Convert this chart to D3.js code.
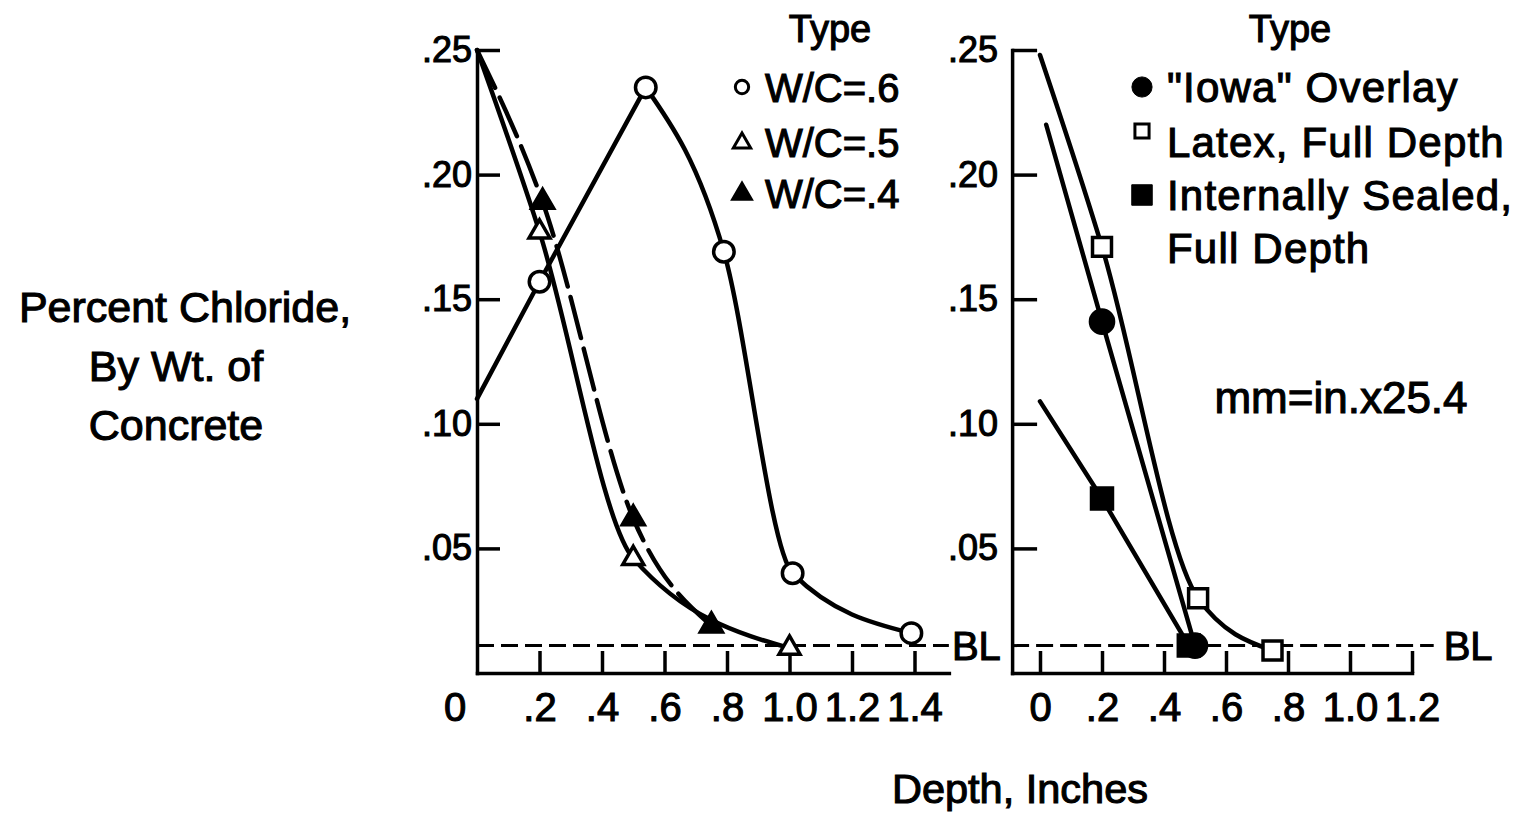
<!DOCTYPE html>
<html>
<head>
<meta charset="utf-8">
<script src="https://cdn.jsdelivr.net/npm/d3@7/dist/d3.min.js"></script>
<style>
  html, body { margin: 0; padding: 0; background: #fff; }
  svg { display: block; }
  text { font-family: "Liberation Sans", Arial, sans-serif; fill: #000; }
</style>
</head>
<body>
<svg id="chart" width="1515" height="816"></svg>
<script>
// Chloride profiles vs. depth (two panels)
const leftDepthTicks = [0.2, 0.4, 0.6, 0.8, 1.0, 1.2, 1.4];
const rightDepthTicks = [0, 0.2, 0.4, 0.6, 0.8, 1.0, 1.2];
const chlorideTicks = [0.05, 0.10, 0.15, 0.20, 0.25];
const baselineChloride = 0.011;

// Left panel: water/cement ratio
const wc6Depth = [0, 0.2, 0.54, 0.79, 1.01, 1.39];
const wc6Chloride = [0.110, 0.157, 0.235, 0.169, 0.040, 0.016];
const wc5Depth = [0, 0.2, 0.5, 1.0];
const wc5Chloride = [0.250, 0.177, 0.046, 0.010];
const wc4Depth = [0, 0.21, 0.5, 0.75];
const wc4Chloride = [0.250, 0.189, 0.062, 0.019];

// Right panel: overlay type
const iowaDepth = [0.02, 0.2, 0.5];
const iowaChloride = [0.220, 0.141, 0.011];
const latexDepth = [0, 0.2, 0.51, 0.75];
const latexChloride = [0.248, 0.171, 0.030, 0.009];
const sealedDepth = [0, 0.2, 0.48];
const sealedChloride = [0.109, 0.070, 0.011];

const leftLegend = ["W/C=.6", "W/C=.5", "W/C=.4"];
const rightLegend = ["\"Iowa\" Overlay", "Latex, Full Depth", "Internally Sealed,", "Full Depth"];

const svg = d3.select("#chart");
svg.append("rect").attr("width", 1515).attr("height", 816).attr("fill", "#fff");

const y = d3.scaleLinear().domain([0, 0.25]).range([673, 50]);
const xL = d3.scaleLinear().domain([0, 1.51]).range([477, 477 + 1.51 * 312.5]);
const xR = d3.scaleLinear().domain([-0.09, 1.2]).range([1040 - 0.09 * 310, 1412]);

const fmtDepth = d => d === 0 ? "0" : (d < 1 ? d3.format(".1f")(d).slice(1) : d3.format(".1f")(d));
const fmtChl = d => d3.format(".2f")(d).slice(1);

const INK = "#000";
const AXW = 3.5;
const TEXT_STROKE = 1.1;

function styleAxis(g, size) {
  g.selectAll(".domain").attr("stroke", INK).attr("stroke-width", AXW).attr("stroke-linecap", "square");
  g.selectAll(".tick line").attr("stroke", INK).attr("stroke-width", AXW);
  g.selectAll(".tick text")
    .attr("font-family", "\"Liberation Sans\", Arial, sans-serif")
    .attr("font-size", size)
    .attr("stroke", INK).attr("stroke-width", TEXT_STROKE);
  g.attr("font-family", null);
}

// Left panel axes
svg.append("g").attr("transform", `translate(0,${y(0)})`)
  .call(d3.axisBottom(xL).tickValues(leftDepthTicks).tickSize(-22).tickSizeOuter(0).tickPadding(20).tickFormat(fmtDepth))
  .call(g => styleAxis(g, 40));
svg.append("g").attr("transform", `translate(${xL(0)},0)`)
  .call(d3.axisLeft(y).tickValues(chlorideTicks).tickSize(-23).tickSizeOuter(0).tickPadding(5).tickFormat(fmtChl))
  .call(g => styleAxis(g, 36));
svg.append("text").attr("x", xL(0) - 22).attr("y", y(0) + 20).attr("dy", "0.71em")
  .attr("text-anchor", "middle").attr("font-size", 40).attr("stroke", INK).attr("stroke-width", TEXT_STROKE)
  .text(fmtDepth(0));

// Right panel axes
svg.append("g").attr("transform", `translate(0,${y(0)})`)
  .call(d3.axisBottom(xR).tickValues(rightDepthTicks).tickSize(-22).tickSizeOuter(0).tickPadding(20).tickFormat(fmtDepth))
  .call(g => styleAxis(g, 40));
svg.append("g").attr("transform", `translate(${xR(-0.09)},0)`)
  .call(d3.axisLeft(y).tickValues(chlorideTicks).tickSize(-25).tickSizeOuter(0).tickPadding(14).tickFormat(fmtChl))
  .call(g => styleAxis(g, 36));

// Background level (BL) reference lines
function baseline(x, d0, d1, labelX) {
  svg.append("line")
    .attr("x1", x(d0)).attr("x2", x(d1))
    .attr("y1", y(baselineChloride)).attr("y2", y(baselineChloride))
    .attr("stroke", INK).attr("stroke-width", 3).attr("stroke-dasharray", "17,7");
  svg.append("text").attr("x", labelX).attr("y", y(baselineChloride)).attr("dy", "0.36em")
    .attr("font-size", 40).attr("stroke", INK).attr("stroke-width", TEXT_STROKE).text("BL");
}
baseline(xL, 0, 1.51, xL(1.51) + 3);
baseline(xR, -0.09, 1.27, xR(1.27) + 10);

// Curves and markers
const zip = (ds, vs) => ds.map((d, i) => ({ depth: d, value: vs[i] }));

function series(x, pts, curve, dash) {
  const line = d3.line().x(d => x(d.depth)).y(d => y(d.value)).curve(curve);
  svg.append("path").datum(pts)
    .attr("d", line)
    .attr("fill", "none").attr("stroke", INK).attr("stroke-width", 4.5)
    .attr("stroke-linejoin", "round").attr("stroke-linecap", "round")
    .attr("stroke-dasharray", dash || null);
}

function markers(x, pts, type, size, filled) {
  svg.append("g").selectAll("path").data(pts).join("path")
    .attr("transform", d => `translate(${x(d.depth)},${y(d.value)})`)
    .attr("d", d3.symbol().type(type).size(size))
    .attr("fill", filled ? INK : "#fff")
    .attr("stroke", INK).attr("stroke-width", 3.5);
}

const wc6 = zip(wc6Depth, wc6Chloride);
const wc5 = zip(wc5Depth, wc5Chloride);
const wc4 = zip(wc4Depth, wc4Chloride);
// W/C=.6 rises straight to its peak, then falls off along a smooth curve
const wc6Peak = d3.maxIndex(wc6, d => d.value);
series(xL, wc6.slice(0, wc6Peak + 1), d3.curveLinear);
series(xL, wc6.slice(wc6Peak), d3.curveMonotoneX);
series(xL, wc5, d3.curveMonotoneX);
series(xL, wc4, d3.curveMonotoneX, "42,11");
markers(xL, wc6.slice(1), d3.symbolCircle, 330, false);
markers(xL, wc5.slice(1), d3.symbolTriangle, 190, false);
markers(xL, wc4.slice(1), d3.symbolTriangle, 210, true);

const iowa = zip(iowaDepth, iowaChloride);
const latex = zip(latexDepth, latexChloride);
const sealed = zip(sealedDepth, sealedChloride);
series(xR, latex, d3.curveMonotoneX);
series(xR, iowa, d3.curveLinear);
series(xR, sealed, d3.curveLinear);
markers(xR, latex.slice(1), d3.symbolSquare, 360, false);
markers(xR, sealed.slice(1), d3.symbolSquare, 440, true);
markers(xR, iowa.slice(1), d3.symbolCircle, 420, true);

// Legends
function label(x, yy, txt, size, anchor, spacing) {
  return svg.append("text").attr("x", x).attr("y", yy)
    .attr("font-size", size).attr("text-anchor", anchor || "start")
    .attr("letter-spacing", spacing || 0)
    .attr("stroke", INK).attr("stroke-width", TEXT_STROKE)
    .text(txt);
}
function legendMark(cx, cy, type, size, filled, sw) {
  svg.append("path").attr("transform", `translate(${cx},${cy})`)
    .attr("d", d3.symbol().type(type).size(size))
    .attr("fill", filled ? INK : "#fff").attr("stroke", INK).attr("stroke-width", sw);
}

label(830, 42, "Type", 38, "middle");
const leftRows = [102, 157, 208];
legendMark(742, 87, d3.symbolCircle, 140, false, 3);
legendMark(742, 143, d3.symbolTriangle, 130, false, 3);
legendMark(742, 194, d3.symbolTriangle, 150, true, 3);
leftLegend.forEach((t, i) => label(765, leftRows[i], t, 40));

label(1290, 42, "Type", 38, "middle");
const rightRows = [102, 157, 210, 263];
legendMark(1142, 87, d3.symbolCircle, 320, true, 1);
legendMark(1142, 131, d3.symbolSquare, 200, false, 3);
legendMark(1142, 195, d3.symbolSquare, 420, true, 1);
rightLegend.forEach((t, i) => label(1167, rightRows[i], t, 42, "start", 1.2));

label(1341, 413, "mm=in.x25.4", 44, "middle");

// Axis titles
label(185, 322, "Percent Chloride,", 43, "middle");
label(176, 381, "By Wt. of", 43, "middle");
label(176, 440, "Concrete", 43, "middle");
label(1020, 803, "Depth, Inches", 41.5, "middle");
</script>
</body>
</html>
